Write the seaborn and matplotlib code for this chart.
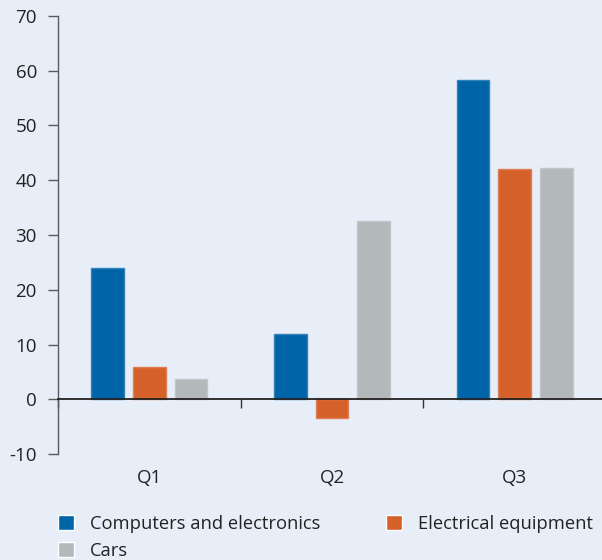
import matplotlib
matplotlib.use("Agg")
import matplotlib.pyplot as plt
import matplotlib.colors as mcolors
from matplotlib.patches import Patch
import seaborn as sns
import pandas as pd

quarters = ["Q1", "Q2", "Q3"]
sectors = ["Computers and electronics", "Electrical equipment", "Cars"]
computers = [24.0, 11.9, 58.3]
electrical = [5.9, -3.4, 42.1]
cars = [3.7, 32.6, 42.3]
colors = ["#0064A8", "#D5602A", "#B3B8BB"]
yticks = [-10, 0, 10, 20, 30, 40, 50, 60, 70]

rows = []
for s, vals in zip(sectors, [computers, electrical, cars]):
    for q, v in zip(quarters, vals):
        rows.append({"quarter": q, "sector": s, "value": v})
df = pd.DataFrame(rows)

bg = "#E8EEF8"
sns.set_theme(style="white")
plt.rcParams["font.family"] = ["Open Sans", "DejaVu Sans"]
FS = 13.5
LFS = 13.2

fig = plt.figure(figsize=(6.02, 5.6), dpi=100, facecolor=bg)
ax = fig.add_axes([58 / 602, 1 - 454.3 / 560, (606 - 58) / 602, (454.3 - 15.7) / 560])
ax.set_facecolor(bg)

sns.barplot(data=df, x="quarter", y="value", hue="sector", order=quarters,
            hue_order=sectors, palette=colors, saturation=1, width=0.684, gap=0.21,
            ax=ax, legend=False, errorbar=None, linewidth=1.0)
for p in ax.patches:
    fc = mcolors.to_rgb(p.get_facecolor())
    ec = tuple(0.8 * c + 0.2 for c in fc)
    p.set_edgecolor(ec)

ax.set_xlim(-0.5, 2.5)
ax.set_ylim(-10, 70)
ax.set_yticks(yticks)
ax.set_yticklabels([str(t) for t in yticks])
ax.set_xlabel("")
ax.set_ylabel("")

for s in ["top", "right"]:
    ax.spines[s].set_visible(False)
ax.spines["left"].set_color("#5a5a5a")
ax.spines["left"].set_linewidth(1.0)
ax.spines["bottom"].set_position(("data", 0))
ax.spines["bottom"].set_color("#222222")
ax.spines["bottom"].set_linewidth(1.3)
ax.spines["bottom"].set_zorder(5)

ax.tick_params(axis="y", direction="out", length=7.2, width=1.0, color="#5a5a5a",
               labelsize=FS, labelcolor="#222222", pad=8, left=True)
ax.set_xticks([0, 1, 2])
ax.set_xticklabels(quarters)
ax.set_xticks([-0.5, 0.5, 1.5], minor=True)
ax.tick_params(axis="x", which="major", length=0, pad=50, labelsize=FS,
               labelcolor="#222222", bottom=True)
ax.tick_params(axis="x", which="minor", direction="out", length=6.5, width=1.0,
               color="#333333", bottom=True)

handles = [Patch(facecolor=colors[0], label=sectors[0]),
           Patch(facecolor=colors[2], label=sectors[2]),
           Patch(facecolor=colors[1], label=sectors[1])]
leg = fig.legend(handles=handles, ncol=2, loc="upper left",
                 bbox_to_anchor=(58 / 602, 1 - 515 / 560), frameon=False,
                 fontsize=LFS, handlelength=0.88, handleheight=0.88,
                 handletextpad=0.85, columnspacing=3.6, labelspacing=0.5,
                 borderaxespad=0, borderpad=0)
for t in leg.get_texts():
    t.set_color("#222222")

fig.savefig("out.png", dpi=100, facecolor=bg)
